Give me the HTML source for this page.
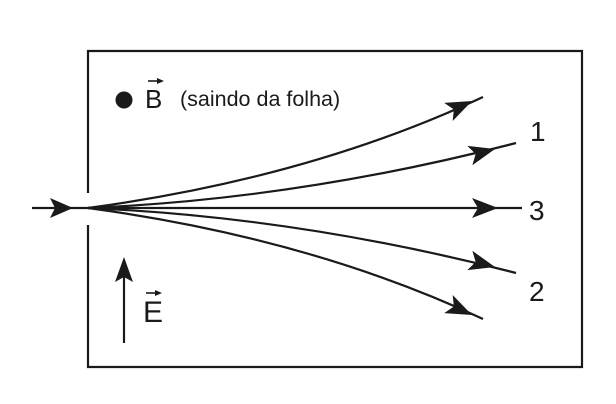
<!DOCTYPE html>
<html><head><style>html,body{margin:0;padding:0;background:#fff;}svg{display:block}</style></head>
<body>
<svg width="616" height="404" viewBox="0 0 616 404" xmlns="http://www.w3.org/2000/svg">
<g fill="none" stroke="#1a1a1a" stroke-width="2.2">
<path d="M88,193 L88,51 L582,51 L582,367 L88,367 L88,225"/>
<path d="M32,208 L88,208"/>
<path d="M124,343 L124,275"/>
<path d="M88,208 Q310,178 483,97"/>
<path d="M88,208 Q300,199 516,143"/>
<path d="M88,208 L522,208"/>
<path d="M88,208 Q300,217 516,273"/>
<path d="M88,208 Q310,238 483,319"/>
</g>
<g fill="#1a1a1a">
<path d="M73,208 L50,198 L55,208 L50,218 Z"/>
<path d="M124,257 L115,282 L124,277 L133,282 Z"/>
<g transform="translate(472,101) rotate(-25)"><path d="M0,0 L-26,-10 L-20,0 L-26,10 Z"/></g>
<g transform="translate(495,149) rotate(-14.6)"><path d="M0,0 L-26,-10 L-20,0 L-26,10 Z"/></g>
<g transform="translate(498,208)"><path d="M0,0 L-26,-10 L-20,0 L-26,10 Z"/></g>
<g transform="translate(495,267) rotate(14.6)"><path d="M0,0 L-26,-10 L-20,0 L-26,10 Z"/></g>
<g transform="translate(472,315) rotate(25)"><path d="M0,0 L-26,-10 L-20,0 L-26,10 Z"/></g>
<circle cx="124" cy="100" r="8.5"/>
</g>
<g font-family="Liberation Sans, sans-serif" fill="#1a1a1a">
<text x="145" y="108" font-size="26">B</text>
<path d="M148,81 L161,81" stroke="#1a1a1a" stroke-width="1.6"/>
<path d="M164,81 L157,78 L157,84 Z"/>
<text x="180" y="106" font-size="21.5">(saindo da folha)</text>
<text x="143" y="322" font-size="30">E</text>
<path d="M146,293 L159,293" stroke="#1a1a1a" stroke-width="1.6"/>
<path d="M162,293 L155,290 L155,296 Z"/>
<text x="530" y="141" font-size="28">1</text>
<text x="529" y="220" font-size="28">3</text>
<text x="529" y="301" font-size="28">2</text>
</g>
</svg>
</body></html>
